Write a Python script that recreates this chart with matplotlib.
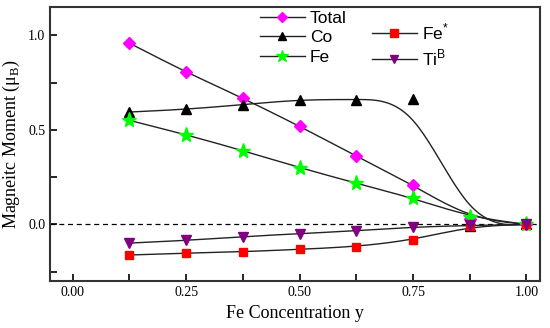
import numpy as np
import matplotlib
matplotlib.use('Agg')
import matplotlib.pyplot as plt
from matplotlib.ticker import MultipleLocator
from matplotlib.lines import Line2D

y_fe = [0.125, 0.25, 0.375, 0.5, 0.625, 0.75, 0.875, 1.0]
total = [0.958, 0.804, 0.668, 0.519, 0.361, 0.208, 0.03, 0.0]
co = [0.594, 0.608, 0.633, 0.66, 0.66, 0.661, -0.01, 0.0]
fe = [0.55, 0.474, 0.39, 0.30, 0.217, 0.139, 0.039, 0.0]
fe_star = [-0.162, -0.152, -0.145, -0.132, -0.118, -0.083, -0.01, 0.0]
ti_b = [-0.099, -0.085, -0.065, -0.049, -0.034, -0.014, -0.006, 0.0]


def bspline(xs, ys, n=40):
    # clamped uniform cubic B-spline with the data points as control points
    px = np.r_[[xs[0]] * 2, xs, [xs[-1]] * 2]
    py = np.r_[[ys[0]] * 2, ys, [ys[-1]] * 2]
    t = np.linspace(0, 1, n)
    b0 = (1 - t) ** 3 / 6
    b1 = (3 * t ** 3 - 6 * t ** 2 + 4) / 6
    b2 = (-3 * t ** 3 + 3 * t ** 2 + 3 * t + 1) / 6
    b3 = t ** 3 / 6
    ox, oy = [], []
    for i in range(len(px) - 3):
        ox.append(b0 * px[i] + b1 * px[i + 1] + b2 * px[i + 2] + b3 * px[i + 3])
        oy.append(b0 * py[i] + b1 * py[i + 1] + b2 * py[i + 2] + b3 * py[i + 3])
    return np.concatenate(ox), np.concatenate(oy)


plt.rcParams['mathtext.fontset'] = 'custom'
plt.rcParams['mathtext.rm'] = 'Liberation Serif'
plt.rcParams['mathtext.sf'] = 'Liberation Sans'
fig = plt.figure(figsize=(5.5, 3.28), dpi=100)
ax = fig.add_axes([0.091, 0.143, 0.891, 0.836])

series = [
    ('Total', total, 'D', '#ff00ff', 6),
    ('Co', co, '^', 'black', 6.5),
    ('Fe', fe, '*', '#00ff00', 11),
    (r'Fe$^{\mathsf{*}}$', fe_star, 's', '#ff0000', 6),
    (r'Ti$^{\mathsf{B}}$', ti_b, 'v', '#800080', 6.5),
]
handles = []
for name, vals, mk, col, ms in series:
    sx, sy = bspline(y_fe, vals)
    ax.plot(sx, sy, color='#222222', lw=1, zorder=2)
    ax.plot(y_fe, vals, linestyle='none', marker=mk, color=col, ms=ms, zorder=3)
    handles.append(Line2D([], [], color='#222222', lw=1, marker=mk,
                          markerfacecolor=col, markeredgecolor=col, ms=ms * 0.85, label=name))

ax.axhline(0, color='black', lw=0.9, ls=(0, (4, 3)), zorder=1)

ax.set_xlim(-0.05, 1.03)
ax.set_ylim(-0.30, 1.15)
ax.xaxis.set_major_locator(MultipleLocator(0.25))
ax.xaxis.set_minor_locator(MultipleLocator(0.125))
ax.yaxis.set_major_locator(MultipleLocator(0.5))
ax.yaxis.set_minor_locator(MultipleLocator(0.25))
ax.tick_params(which='both', direction='in', length=5, width=1.2, labelsize=10,
               top=False, right=False)
ax.set_xticklabels(['%.2f' % v for v in ax.get_xticks()])
ax.set_yticklabels(['%.1f' % v for v in ax.get_yticks()])
for lab in ax.get_xticklabels() + ax.get_yticklabels():
    lab.set_family('Liberation Serif')
for s in ax.spines.values():
    s.set_linewidth(1.5)
    s.set_color('#333333')

ax.set_xlabel('Fe Concentration y', family='Liberation Serif', fontsize=13, labelpad=4)
ax.set_ylabel('Magneitc Moment (\u03bc$_{\\mathrm{B}}$)', family='Liberation Serif',
              fontsize=13, labelpad=4)

leg_font = {'family': 'Liberation Sans', 'size': 12.5}
leg1 = ax.legend(handles=handles[:3], loc='upper left', bbox_to_anchor=(0.403, 1.03),
                 frameon=False, prop=leg_font,
                 handlelength=2.6, handletextpad=0.3, labelspacing=0.25, borderpad=0.2)
ax.add_artist(leg1)
ax.legend(handles=handles[3:], loc='upper left', bbox_to_anchor=(0.632, 0.99),
          frameon=False, prop=leg_font,
          handlelength=2.6, handletextpad=0.3, labelspacing=0.3, borderpad=0.2)

plt.savefig('out.png', dpi=100)
